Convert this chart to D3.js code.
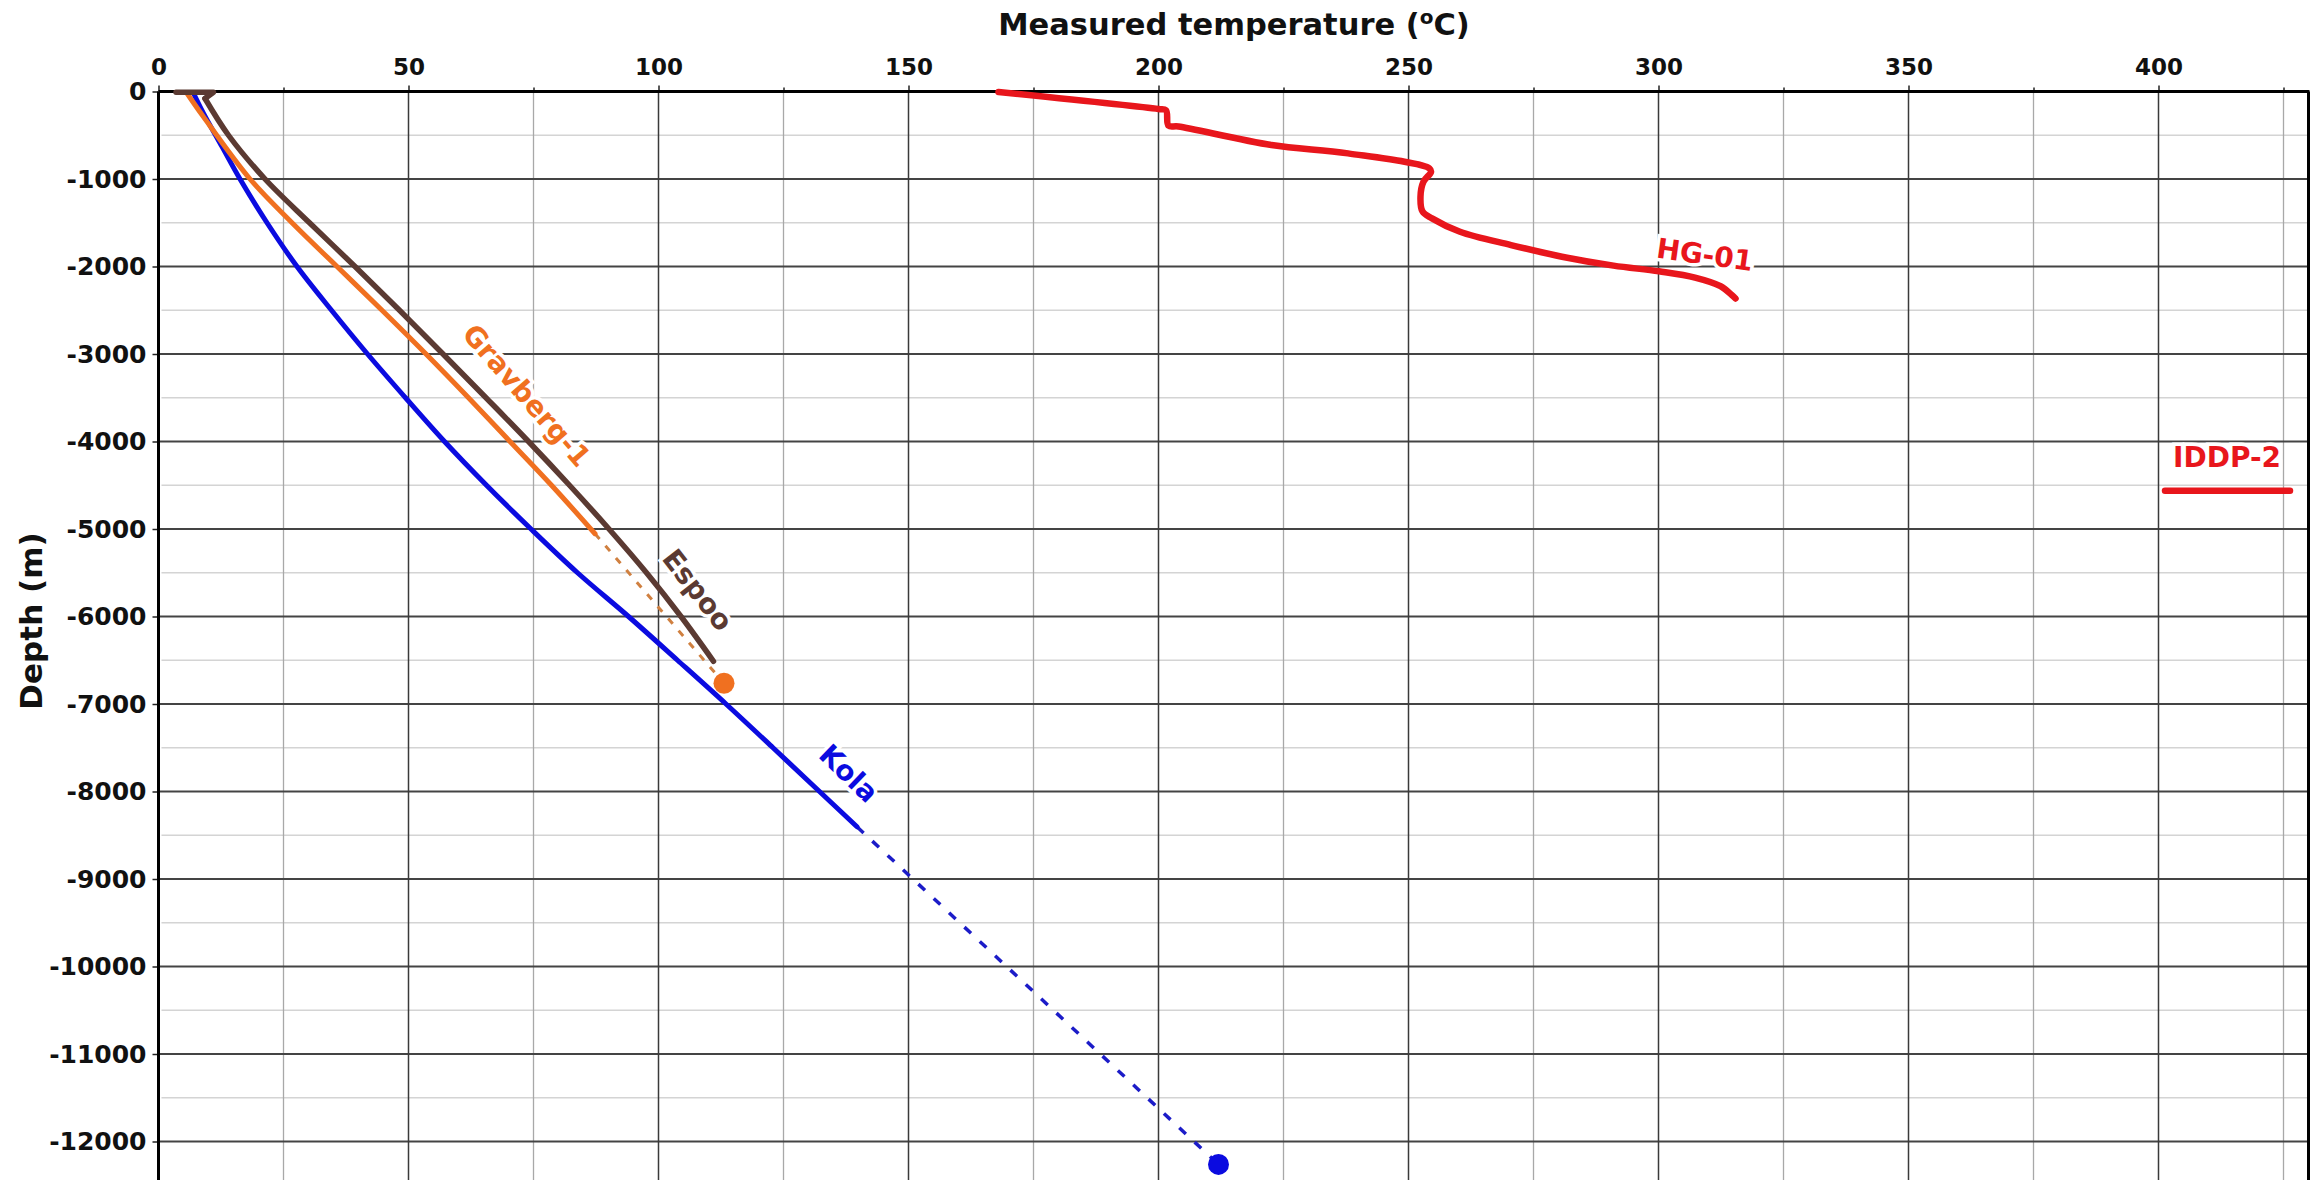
<!DOCTYPE html>
<html>
<head>
<meta charset="utf-8">
<script src="https://cdn.jsdelivr.net/npm/d3@7"></script>
<style>
  body { margin: 0; background: #fff; }
  svg text { font-family: "DejaVu Sans", sans-serif; font-weight: bold; }
</style>
</head>
<body>
<svg id="chart" width="2315" height="1180"></svg>
<script>
// temperature (C) vs depth (m)
var kola = [[7,-20],[9,-250],[12.7,-630],[16.3,-1000],[21.7,-1500],[27.7,-2000],[34.6,-2500],
  [41.8,-3000],[49.4,-3500],[57.2,-4000],[65.6,-4500],[74.5,-5000],[83.8,-5500],[94,-6000],
  [103.8,-6500],[113.5,-7000],[122.9,-7500],[132.2,-8000],[139.7,-8403]];
var kolaExtrap = [[139.7,-8403],[212,-12262]];
var gravberg = [[5.7,-20],[9,-290],[18.3,-1000],[26.7,-1500],[35.7,-2000],[44.7,-2500],
  [53.5,-3000],[62,-3500],[70.3,-4000],[78.6,-4500],[87.3,-5054]];
var gravbergExtrap = [[87.3,-5054],[113.1,-6763]];
var espooHead = [[3.5,-8],[11,-8],[9.3,-80]];
var espoo = [[9.3,-80],[14,-500],[21.3,-1000],[30.2,-1500],[39.3,-2000],[48.2,-2500],
  [56.9,-3000],[65.5,-3500],[74,-4000],[82.2,-4500],[90.1,-5000],[97.6,-5500],[104.5,-6000],
  [111,-6512]];
var hg01 = [[168,-5],[200,-200],[201.5,-215],[202,-390],[204,-400],[222.6,-612],[237.9,-707],
  [254.2,-879],[254.5,-920],[253,-1030],[252.4,-1200],[252.8,-1370],[254.7,-1450],[260.3,-1603],
  [270.5,-1755],[280.7,-1888],[291,-1990],[300.1,-2055],[307.3,-2126],[312.4,-2225],[315.4,-2365]];
var iddp2 = [[401.3,-4562],[426.3,-4562]];
var bottomPoints = [[113.1,-6763,"gravberg"],[212,-12262,"kola"]];

var xTicks = [0,50,100,150,200,250,300,350,400];
var xMinor = [25,75,125,175,225,275,325,375,425];
var yTicks = [0,-1000,-2000,-3000,-4000,-5000,-6000,-7000,-8000,-9000,-10000,-11000,-12000];
var yMinor = [-500,-1500,-2500,-3500,-4500,-5500,-6500,-7500,-8500,-9500,-10500,-11500,-12500];

var wellLabels = [
  {name: "Gravberg-1", t: 73.7, d: -3472, key: "gravberg"},
  {name: "Espoo", t: 107.9, d: -5695, key: "espoo"},
  {name: "Kola", t: 138.1, d: -7791, key: "kola"},
  {name: "HG-01", t: 309.3, d: -1860, key: "hg"},
  {name: "IDDP-2", t: 413.7, d: -4172, key: "iddp"}
];

var colors = {kola: "#0b0be0", gravberg: "#f07020", espoo: "#5b3a32", hg: "#e8161c", iddp: "#e8161c"};
var angles = {gravberg: 49, espoo: 52, kola: 44, hg: 8, iddp: 0};

var plotL = 158.5, plotT = 91.5, plotR = 2308.5, plotB = 1185.25;
var x = d3.scaleLinear().domain([0, 430]).range([plotL, plotR]);
var y = d3.scaleLinear().domain([0, -12500]).range([plotT, plotB]);

var svg = d3.select("#chart");

// grid
var grid = svg.append("g").attr("class", "grid");
grid.selectAll("line.hmin").data(yMinor).enter().append("line")
  .attr("x1", plotL + 3).attr("x2", plotR).attr("y1", y).attr("y2", y)
  .attr("stroke", "#d4d4d4").attr("stroke-width", 1.6);
grid.selectAll("line.vmin").data(xMinor).enter().append("line")
  .attr("x1", x).attr("x2", x).attr("y1", plotT).attr("y2", plotB)
  .attr("stroke", "#a8a8a8").attr("stroke-width", 1.3);
grid.selectAll("line.hmaj").data(yTicks.slice(1)).enter().append("line")
  .attr("x1", plotL).attr("x2", plotR).attr("y1", y).attr("y2", y)
  .attr("stroke", "#444").attr("stroke-width", 1.8);
grid.selectAll("line.vmaj").data(xTicks.slice(1)).enter().append("line")
  .attr("x1", x).attr("x2", x).attr("y1", plotT).attr("y2", plotB)
  .attr("stroke", "#3a3a3a").attr("stroke-width", 1.5);

// axes
var xAxis = svg.append("g").attr("transform", "translate(0," + plotT + ")")
  .call(d3.axisTop(x).tickValues(xTicks).tickSize(6).tickPadding(11).tickFormat(function(d){ return String(d); }));
svg.append("g").attr("transform", "translate(0," + plotT + ")")
  .call(d3.axisTop(x).tickValues(xMinor).tickSize(4).tickFormat(""))
  .select(".domain").remove();
var yAxis = svg.append("g").attr("transform", "translate(" + plotL + ",0)")
  .call(d3.axisLeft(y).tickValues(yTicks).tickSize(6).tickPadding(6).tickFormat(function(d){ return String(d); }));
xAxis.select(".domain").remove();
yAxis.select(".domain").remove();
svg.selectAll(".tick line").attr("stroke", "#222").attr("stroke-width", 1.5);
xAxis.selectAll("text").attr("font-size", 23).attr("fill", "#111")
  .style("font-family", "'DejaVu Sans', sans-serif").style("font-weight", "bold");
yAxis.selectAll("text").attr("font-size", 25).attr("fill", "#111")
  .style("font-family", "'DejaVu Sans', sans-serif").style("font-weight", "bold");

// frame
svg.append("line").attr("x1", plotL).attr("x2", plotR + 1).attr("y1", plotT).attr("y2", plotT)
  .attr("stroke", "#000").attr("stroke-width", 3);
svg.append("line").attr("x1", plotL).attr("x2", plotL).attr("y1", plotT).attr("y2", plotB)
  .attr("stroke", "#000").attr("stroke-width", 3);
svg.append("line").attr("x1", plotR).attr("x2", plotR).attr("y1", plotT).attr("y2", plotB)
  .attr("stroke", "#000").attr("stroke-width", 3);

// titles
svg.append("text").attr("x", 1234).attr("y", 35).attr("text-anchor", "middle")
  .attr("font-size", 30.5).attr("fill", "#111")
  .call(function(t) {
    t.append("tspan").text("Measured temperature (");
    t.append("tspan").attr("font-size", 20).attr("dy", -11).text("o");
    t.append("tspan").attr("dy", 11).text("C)");
  });
svg.append("text").attr("transform", "translate(42,621) rotate(-90)")
  .attr("text-anchor", "middle").attr("font-size", 31).attr("fill", "#111")
  .text("Depth (m)");

// curves
var line = d3.line().x(function(d){ return x(d[0]); }).y(function(d){ return y(d[1]); });
var smooth = d3.line().curve(d3.curveCatmullRom.alpha(0.5))
  .x(function(d){ return x(d[0]); }).y(function(d){ return y(d[1]); });
var curves = svg.append("g").attr("fill", "none")
  .attr("stroke-linejoin", "round").attr("stroke-linecap", "round");

curves.append("path").datum(gravbergExtrap).attr("d", line)
  .attr("stroke", "#d08040").attr("stroke-width", 3).attr("stroke-dasharray", "7,9")
  .attr("stroke-linecap", "butt");
curves.append("path").datum(kolaExtrap).attr("d", line)
  .attr("stroke", "#1c1cc8").attr("stroke-width", 3.5).attr("stroke-dasharray", "9,12")
  .attr("stroke-linecap", "butt");
curves.append("path").datum(kola).attr("d", smooth).attr("stroke", colors.kola).attr("stroke-width", 5);
curves.append("path").datum(gravberg).attr("d", smooth).attr("stroke", colors.gravberg).attr("stroke-width", 5);
curves.append("path").datum(espooHead).attr("d", line).attr("stroke", colors.espoo).attr("stroke-width", 5.5);
curves.append("path").datum(espoo).attr("d", smooth).attr("stroke", colors.espoo).attr("stroke-width", 5.5);
curves.append("path").datum(hg01).attr("d", smooth).attr("stroke", colors.hg).attr("stroke-width", 6.5);
curves.append("path").datum(iddp2).attr("d", line).attr("stroke", colors.iddp).attr("stroke-width", 6.5);

svg.selectAll("circle.end").data(bottomPoints).enter().append("circle")
  .attr("cx", function(d){ return x(d[0]); }).attr("cy", function(d){ return y(d[1]); })
  .attr("r", 10.5).attr("fill", function(d){ return colors[d[2]]; });

// well labels
svg.selectAll("text.well").data(wellLabels).enter().append("text")
  .attr("class", "well")
  .attr("transform", function(d){ return "translate(" + x(d.t) + "," + y(d.d) + ") rotate(" + angles[d.key] + ")"; })
  .attr("text-anchor", "middle").attr("dy", "0.36em")
  .attr("font-size", 28)
  .attr("fill", function(d){ return colors[d.key]; })
  .attr("stroke", "#fff").attr("stroke-width", 7).attr("paint-order", "stroke")
  .text(function(d){ return d.name; });
</script>
</body>
</html>
